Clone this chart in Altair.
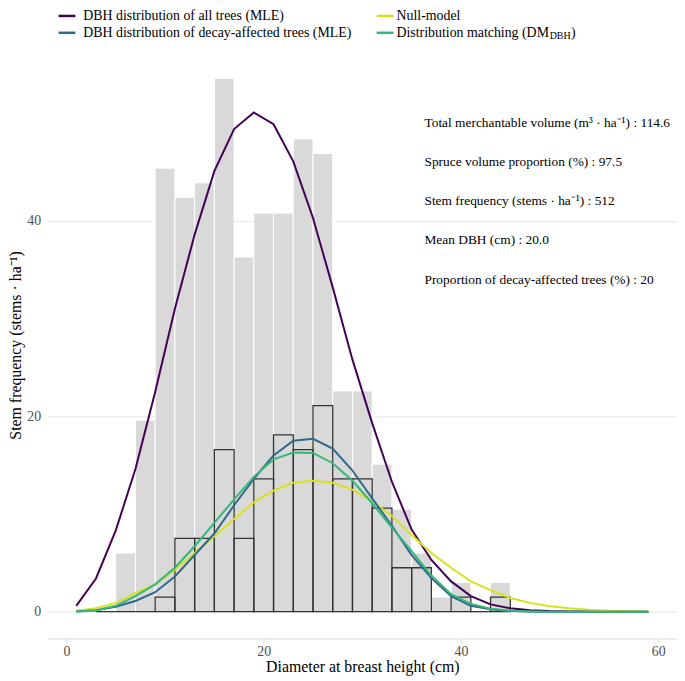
import altair as alt
import pandas as pd

# ---- data ----
# histogram of all trees: bin midpoints (cm, 2 cm bins) and stem frequency (stems/ha)
all_mid = [6, 8, 10, 12, 14, 16, 18, 20, 22, 24, 26, 28, 30, 32, 34, 36, 38, 40, 44]
all_freq = [6.0, 19.6, 45.4, 42.4, 43.9, 54.6, 36.3, 40.8, 40.8, 48.4, 46.9, 22.6,
            22.6, 15.1, 10.5, 6.0, 1.5, 3.0, 3.0]

# histogram of decay-affected trees
decay_mid = [4, 6, 8, 10, 12, 14, 16, 18, 20, 22, 24, 26, 28, 30, 32, 34, 36, 38, 40, 42, 44]
decay_freq = [0, 0, 0, 1.5, 7.5, 7.5, 16.6, 7.5, 13.6, 18.1, 16.6, 21.1, 13.6, 13.6,
              10.6, 4.5, 4.5, 0, 1.5, 0, 1.5]

# fitted curves evaluated at DBH = 1, 3, ..., 59
dbh = [1, 3, 5, 7, 9, 11, 13, 15, 17, 19, 21, 23, 25, 27, 29, 31, 33, 35, 37, 39,
       41, 43, 45, 47, 49, 51, 53, 55, 57, 59]
all_mle = [0.6, 3.4, 8.3, 14.6, 22.5, 31.0, 38.6, 45.1, 49.4, 51.1, 49.9, 46.1, 40.3,
           33.2, 25.8, 19.3, 13.3, 8.4, 5.3, 3.1, 1.6, 0.75, 0.35, 0.15, 0.06, 0.02,
           0.01, 0.0, 0.0, 0.0]
decay_mle = [0.03, 0.15, 0.5, 1.1, 2.0, 3.6, 5.8, 8.0, 10.9, 13.6, 16.0, 17.5, 17.7,
             16.7, 14.45, 11.6, 8.8, 5.8, 3.45, 1.6, 0.6, 0.25, 0.08, 0.02, 0.0, 0.0,
             0.0, 0.0, 0.0, 0.0]
null_model = [0.1, 0.35, 0.9, 1.9, 2.8, 4.3, 6.0, 7.7, 9.5, 11.2, 12.4, 13.2, 13.4,
              13.2, 12.5, 11.3, 9.8, 7.85, 6.0, 4.5, 3.1, 2.2, 1.4, 0.9, 0.55, 0.35,
              0.2, 0.1, 0.05, 0.02]
dm_dbh = [0.02, 0.12, 0.6, 1.6, 2.8, 4.5, 6.7, 9.1, 11.5, 13.8, 15.6, 16.3, 16.25,
          15.2, 13.4, 11.1, 8.6, 6.2, 3.7, 1.8, 0.8, 0.3, 0.1, 0.03, 0.0, 0.0, 0.0,
          0.0, 0.0, 0.0]

series_names = ["DBH distribution of all trees (MLE)",
                "DBH distribution of decay-affected trees (MLE)",
                "Null-model",
                "Distribution matching (DM"]
series_colors = ["#440154", "#31688E", "#D7E21B", "#35B779"]

annot_text = ["Total merchantable volume (m\u00b3 \u00b7 ha\u207b\u00b9) : 114.6",
              "Spruce volume proportion (%) : 97.5",
              "Stem frequency (stems \u00b7 ha\u207b\u00b9) : 512",
              "Mean DBH (cm) : 20.0",
              "Proportion of decay-affected  trees (%) : 20"]
annot_y = [50, 46, 42, 38, 34]
annot_x = [36.3, 36.3, 36.3, 36.3, 36.3]

FONT = "Liberation Serif"

# ---- tables ----
df_all = pd.DataFrame({"mid": all_mid, "freq": all_freq})
df_decay = pd.DataFrame({"mid": decay_mid, "freq": decay_freq})
df_lines = pd.DataFrame({"dbh": dbh, "all": all_mle, "decay": decay_mle,
                         "null": null_model, "dm": dm_dbh})
df_annot = pd.DataFrame({"x": annot_x, "y": annot_y, "label": annot_text})
df_one = pd.DataFrame({"k": [0]})

xs = alt.Scale(domain=[-1.9, 61.9], nice=False, zero=False)
ys = alt.Scale(domain=[-2.73, 57.33], nice=False, zero=False)

xaxis = alt.Axis(values=[0, 20, 40, 60], grid=False, domainColor="#e0e0e0",
                 domainWidth=1.2, tickColor="#e0e0e0", tickSize=4, tickWidth=1.2,
                 labelFont=FONT, labelFontSize=14, labelColor="#4d4d4d",
                 labelBaseline="alphabetic", labelPadding=13,
                 title="Diameter at breast height (cm)", titleFont=FONT,
                 titleFontSize=16, titleFontWeight="normal", titleColor="black",
                 titleBaseline="alphabetic", titleY=33)
yaxis = alt.Axis(values=[0, 20, 40], grid=True, gridColor="#ebebeb", gridWidth=1.2,
                 domain=False, ticks=False, tickSize=0, labelFont=FONT,
                 labelFontSize=14, labelColor="#4d4d4d", labelPadding=7,
                 title="Stem frequency (stems \u00b7 ha\u207b\u00b9)", titleFont=FONT,
                 titleFontSize=16, titleFontWeight="normal", titleColor="black",
                 titleBaseline="alphabetic", titleX=-27, titleY=296, titleAlign="center")

grey = alt.Chart(df_all).transform_calculate(
    lo="datum.mid - 1", hi="datum.mid + 1"
).mark_rect(fill="#d9d9d9", stroke="white", strokeWidth=1).encode(
    x=alt.X("lo:Q", scale=xs, axis=xaxis),
    x2="hi:Q",
    y=alt.Y("freq:Q", scale=ys, axis=yaxis),
    y2=alt.datum(0),
)

decay = alt.Chart(df_decay).transform_calculate(
    lo="datum.mid - 1", hi="datum.mid + 1"
).mark_rect(fill="transparent", stroke="#333333", strokeWidth=1.3).encode(
    x=alt.X("lo:Q", scale=xs),
    x2="hi:Q",
    y=alt.Y("freq:Q", scale=ys),
    y2=alt.datum(0),
)


def curve(col, color):
    return alt.Chart(df_lines).mark_line(strokeWidth=2, color=color).encode(
        x=alt.X("dbh:Q", scale=xs),
        y=alt.Y(f"{col}:Q", scale=ys),
    )


l_all = curve("all", series_colors[0])
l_null = curve("null", series_colors[2])
l_decay = curve("decay", series_colors[1])
l_dm = curve("dm", series_colors[3])

annot = alt.Chart(df_annot).mark_text(
    font=FONT, fontSize=13.5, align="left", baseline="middle", color="black"
).encode(
    x=alt.X("x:Q", scale=xs),
    y=alt.Y("y:Q", scale=ys),
    text="label:N",
)

# ---- manual legend (two columns, two rows) ----
ROW1, ROW2 = -36, -19
legend_layers = []
legend_spec = [
    (series_names[0], series_colors[0], 11, 36, ROW1),
    (series_names[2], series_colors[2], 332, 352, ROW1),
    (series_names[1], series_colors[1], 11, 36, ROW2),
    (series_names[3], series_colors[3], 332, 352, ROW2),
]
for name, color, sx, tx, ry in legend_spec:
    legend_layers.append(
        alt.Chart(df_one).mark_rule(color=color, strokeWidth=2.5).encode(
            x=alt.value(sx), x2=alt.value(sx + 17), y=alt.value(ry)
        )
    )
    legend_layers.append(
        alt.Chart(df_one).mark_text(
            text=name, font=FONT, fontSize=14, align="left", baseline="middle",
            color="black"
        ).encode(x=alt.value(tx), y=alt.value(ry))
    )
# subscript "DBH" and closing parenthesis of the last legend label
legend_layers.append(
    alt.Chart(df_one).mark_text(
        text="DBH", font=FONT, fontSize=10, align="left", baseline="middle",
        color="black"
    ).encode(x=alt.value(352 + 154.5), y=alt.value(ROW2 + 3.5))
)
legend_layers.append(
    alt.Chart(df_one).mark_text(
        text=")", font=FONT, fontSize=14, align="left", baseline="middle",
        color="black"
    ).encode(x=alt.value(352 + 154.5 + 21.5), y=alt.value(ROW2))
)

chart = alt.layer(
    grey, decay, l_all, l_null, l_decay, l_dm, annot, *legend_layers
).properties(
    width=635,
    height=592,
    autosize=alt.AutoSizeParams(type="none"),
    padding={"left": 40, "top": 41, "right": 0, "bottom": 40},
).configure_view(stroke=None)

chart.save("out.html", embed_options={"renderer": "svg", "actions": False})
